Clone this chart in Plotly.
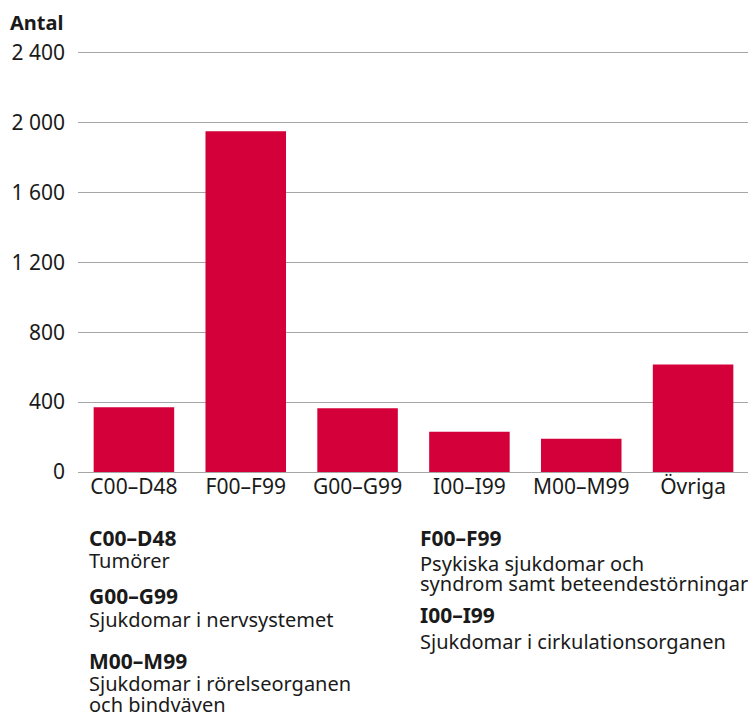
import plotly.graph_objects as go

categories = ["C00–D48", "F00–F99", "G00–G99", "I00–I99", "M00–M99", "Övriga"]
values = [370, 1950, 365, 230, 190, 615]
tick_vals = [0, 400, 800, 1200, 1600, 2000, 2400]
tick_text = ["0", "400", "800", "1 200", "1 600", "2 000", "2 400"]

legend_left = [
    ("C00–D48", "bold", 538),
    ("Tumörer", "normal", 561),
    ("G00–G99", "bold", 596),
    ("Sjukdomar i nervsystemet", "normal", 620),
    ("M00–M99", "bold", 661),
    ("Sjukdomar i rörelseorganen", "normal", 684),
    ("och bindväven", "normal", 705),
]
legend_right = [
    ("F00–F99", "bold", 538),
    ("Psykiska sjukdomar och", "normal", 564),
    ("syndrom samt beteendestörningar", "normal", 584),
    ("I00–I99", "bold", 615),
    ("Sjukdomar i cirkulationsorganen", "normal", 642),
]

FONT = "Noto Sans"
TXT = "#1a1a1a"
OFF = 8  # page body margin
Y_TOP = 2420  # axis range top, slightly above the last gridline
# plot area in screen pixels (2400 gridline at y=52, zero at y=472)
SL, SR, SB = 78, 749, 472
ST = SB - 420 * Y_TOP / 2400
W, H = 756 - OFF, 720 - OFF
ML, MT = SL - OFF, ST - OFF
MR = W - (SR - OFF)
MB = H - (SB - OFF)
PH = SB - ST
PW = SR - SL


def px_x(x):
    return (x - SL) / PW


def px_y(y):
    return (SB - y) / PH


fig = go.Figure(go.Bar(
    x=categories, y=values,
    marker=dict(color="#D4003A", line=dict(width=0)),
    width=0.72,
))

anns = [dict(text="<b>Antal</b>", x=px_x(8), y=px_y(22), xref="paper", yref="paper",
             showarrow=False, xanchor="left", yanchor="middle",
             font=dict(size=20, color=TXT, family=FONT))]
for items, px in ((legend_left, 87), (legend_right, 418)):
    for text, weight, py in items:
        bold = weight == "bold"
        anns.append(dict(
            text=f"<b>{text}</b>" if bold else text,
            xref="paper", yref="paper",
            x=px_x(px), y=px_y(py),
            showarrow=False, xanchor="left", yanchor="middle",
            font=dict(size=21 if bold else 20, color=TXT, family=FONT),
        ))

fig.update_layout(
    width=W, height=H,
    margin=dict(l=ML, r=MR, t=MT, b=MB, autoexpand=False),
    plot_bgcolor="white", paper_bgcolor="white",
    font=dict(family=FONT, size=20, color=TXT),
    showlegend=False,
    xaxis=dict(showline=False, ticks="", tickfont=dict(size=21, color=TXT),
               range=[-0.5, 5.5], automargin=False),
    yaxis=dict(range=[0, Y_TOP], tickvals=tick_vals, ticktext=tick_text,
               showgrid=True, gridcolor="#a6a6a6", gridwidth=1,
               zeroline=True, zerolinecolor="#a6a6a6", zerolinewidth=1,
               showline=False, ticks="", ticklabelstandoff=12, automargin=False,
               tickfont=dict(size=21, color=TXT)),
    annotations=anns,
)

fig.write_html("out.html")
